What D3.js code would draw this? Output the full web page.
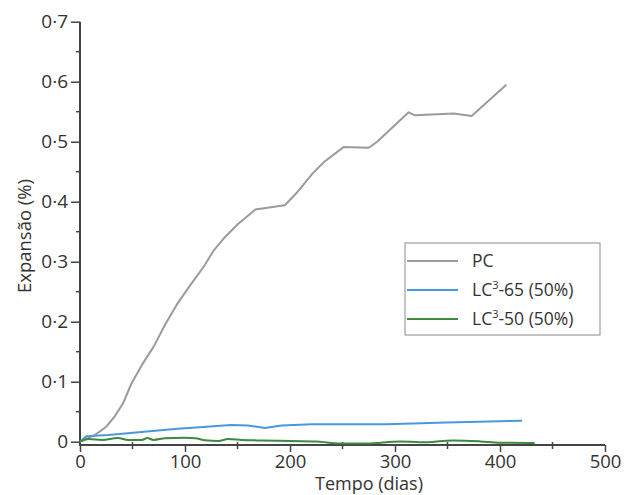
<!DOCTYPE html>
<html>
<head>
<meta charset="utf-8">
<script src="https://cdn.jsdelivr.net/npm/d3@7"></script>
<style>
  html, body { margin: 0; padding: 0; background: #fff; }
  svg { display: block; font-family: "Open Sans", "Noto Sans", sans-serif; }
</style>
</head>
<body>
<svg id="chart" width="624" height="495"></svg>
<script>
// ---- data ----
const xTicks = [0, 100, 200, 300, 400, 500];
const yTicks = [0, 0.1, 0.2, 0.3, 0.4, 0.5, 0.6, 0.7];
const xMinorTicks = [50, 150, 250, 350, 450];
const yMinorTicks = [0.05, 0.15, 0.25, 0.35, 0.45, 0.55, 0.65];

const seriesNames = ["PC", "LC3-65 (50%)", "LC3-50 (50%)"];

const pcDays = [0, 14, 25, 33, 41, 49, 59, 70, 81, 92, 105, 118, 127, 137, 150, 167, 195, 206, 222, 233, 251, 275, 283, 313, 319, 356, 373, 406];
const pcVals = [0, 0.011, 0.025, 0.042, 0.064, 0.097, 0.128, 0.158, 0.195, 0.228, 0.261, 0.292, 0.318, 0.339, 0.362, 0.387, 0.394, 0.414, 0.448, 0.467, 0.491, 0.490, 0.500, 0.549, 0.544, 0.547, 0.543, 0.595];

const lc65Days = [0, 6, 27, 90, 144, 160, 176, 192, 221, 292, 349, 421];
const lc65Vals = [0, 0.009, 0.011, 0.021, 0.028, 0.027, 0.023, 0.027, 0.029, 0.029, 0.032, 0.035];

const lc50Days = [0, 8, 21, 36, 46, 59, 64, 70, 81, 100, 110, 119, 132, 141, 154, 173, 202, 224, 248, 273, 305, 324, 356, 381, 400, 433];
const lc50Vals = [0, 0.0045, 0.003, 0.006, 0.003, 0.003, 0.006, 0.003, 0.0057, 0.0067, 0.0057, 0.0023, 0.001, 0.0045, 0.003, 0.002, 0.001, 0.0005, -0.003, -0.003, 0.0005, -0.001, 0.002, 0.0005, -0.0016, -0.002];

// ---- layout ----
const svg = d3.select("#chart");
const x = d3.scaleLinear().domain([0, 500]).range([80, 605]);
const y = d3.scaleLinear().domain([0, 0.7]).range([441.7, 21.7]);
const axisY = 445; // x-axis line position
const textColor = "#333";
const axisColor = "#444";
const fmt = d => d === 0 ? "0" : d.toFixed(1).replace(".", "\u00B7");

// y axis
const gy = svg.append("g").attr("transform", `translate(${x(0)},0)`);
gy.call(d3.axisLeft(y).tickValues(yTicks).tickFormat(fmt).tickSize(9).tickPadding(3));
gy.select(".domain").remove();
gy.selectAll(".tick line").attr("stroke", axisColor).attr("stroke-width", 1.5);
gy.selectAll(".tick text").attr("fill", textColor).attr("font-size", 19).attr("font-family", "Open Sans");
gy.selectAll(".minor").data(yMinorTicks).enter().append("line")
  .attr("x1", -4).attr("x2", 0).attr("y1", d => y(d)).attr("y2", d => y(d))
  .attr("stroke", axisColor).attr("stroke-width", 1.5);
gy.append("line").attr("x1", 0).attr("x2", 0).attr("y1", y(0.7)).attr("y2", axisY + 1)
  .attr("stroke", axisColor).attr("stroke-width", 2);

// x axis
const gx = svg.append("g").attr("transform", `translate(0,${axisY})`);
gx.call(d3.axisBottom(x).tickValues(xTicks).tickFormat(d3.format("d")).tickSize(7).tickPadding(3));
gx.select(".domain").remove();
gx.selectAll(".tick line").attr("stroke", axisColor).attr("stroke-width", 1.5);
gx.selectAll(".tick text").attr("fill", textColor).attr("font-size", 18.5).attr("font-family", "Open Sans");
gx.selectAll(".minor").data(xMinorTicks).enter().append("line")
  .attr("x1", d => x(d)).attr("x2", d => x(d)).attr("y1", -3).attr("y2", 4)
  .attr("stroke", axisColor).attr("stroke-width", 1.5);
gx.append("line").attr("x1", x(0)).attr("x2", x(500)).attr("y1", 0).attr("y2", 0)
  .attr("stroke", axisColor).attr("stroke-width", 2);

// axis titles
svg.append("text").attr("x", 369).attr("y", 490).attr("text-anchor", "middle")
  .attr("font-size", 18).attr("fill", textColor).text("Tempo (dias)");
svg.append("text").attr("transform", "translate(31,236) rotate(-90)").attr("text-anchor", "middle")
  .attr("font-size", 18.5).attr("fill", textColor).text("Expansão (%)");

// lines
const colors = ["#9b9b9b", "#4a98dc", "#3d8a3d"];
const series = [
  pcDays.map((d, i) => [d, pcVals[i]]),
  lc65Days.map((d, i) => [d, lc65Vals[i]]),
  lc50Days.map((d, i) => [d, lc50Vals[i]])
];
const curves = [d3.curveLinear, d3.curveLinear, d3.curveMonotoneX];
series.forEach((s, i) => {
  const line = d3.line().x(d => x(d[0])).y(d => y(d[1])).curve(curves[i]);
  svg.append("path").datum(s).attr("d", line)
    .attr("fill", "none").attr("stroke", colors[i]).attr("stroke-width", 2)
    .attr("stroke-linejoin", "round");
});

// legend
const lg = svg.append("g");
lg.append("rect").attr("x", 405).attr("y", 243).attr("width", 195).attr("height", 92)
  .attr("fill", "#fff").attr("stroke", "#8a8a8a").attr("stroke-width", 1);
const legY = [261, 290, 319];
seriesNames.forEach((name, i) => {
  lg.append("line").attr("x1", 407).attr("x2", 458).attr("y1", legY[i]).attr("y2", legY[i])
    .attr("stroke", colors[i]).attr("stroke-width", 2);
  const t = lg.append("text").attr("x", 472).attr("y", legY[i] + 6)
    .attr("font-size", 17.5).attr("fill", textColor);
  if (name.startsWith("LC3")) {
    t.append("tspan").text("LC");
    t.append("tspan").attr("font-size", 11).attr("dy", -7).text("3");
    t.append("tspan").attr("dy", 7).text(name.slice(3));
  } else {
    t.text(name);
  }
});
</script>
</body>
</html>
